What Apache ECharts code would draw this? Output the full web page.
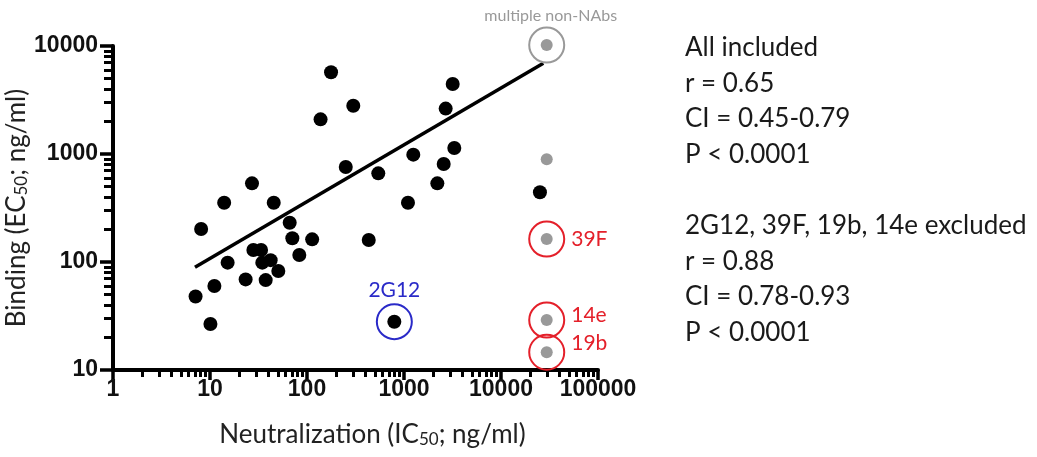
<!DOCTYPE html>
<html>
<head>
<meta charset="utf-8">
<script src="https://cdn.jsdelivr.net/npm/echarts@6/dist/echarts.min.js"></script>
<style>html,body{margin:0;background:#fff}#chart{width:1037px;height:457px}</style>
</head>
<body>
<div id="chart"></div>
<script>
// neutralization IC50 (x) vs binding EC50 (y), both ng/ml
const blackPoints = [
  [7.1, 48], [8.1, 202], [10.1, 26.7], [11.1, 60], [14.0, 354], [15.2, 98.6],
  [23.3, 69], [27.1, 535], [28, 129], [33.6, 129], [34.6, 98.6], [37.5, 68],
  [42.2, 104], [45.4, 354], [50.6, 82.6], [66.3, 231], [70.6, 166], [83.3, 116],
  [113, 162], [138, 2094], [177, 5710], [251, 759], [300, 2800], [433, 160],
  [543, 662], [795, 28], [1099, 354], [1247, 986], [2206, 535], [2566, 808],
  [2690, 2633], [3177, 4446], [3300, 1137], [25200, 442]
]
const grayPoints = [[29600, 10200], [29600, 893], [29600, 163], [29600, 29], [29600, 14.6]]
const fitLine = [[7.0, 89.4], [27300, 6920]]

// circled antibodies: name, x, y
const markedBlue = [['2G12', 795, 28]]
const markedRed = [['39F', 29600, 163], ['14e', 29600, 29], ['19b', 29600, 14.6]]
const markedGray = [['multiple non-NAbs', 29600, 10200]]

const xMajor = [1, 10, 100, 1000, 10000, 100000]
const yMajor = [10, 100, 1000, 10000]
const minorSteps = [2, 3, 4, 5, 6, 7, 8, 9]

const statsAll = ['All included', 'r = 0.65', 'CI = 0.45-0.79', 'P < 0.0001']
const statsExcl = ['2G12, 39F, 19b, 14e excluded', 'r = 0.88', 'CI = 0.78-0.93', 'P < 0.0001']

// tick positions in exponent space, for the overlaid linear tick axes
function minorExp(major) {
  const out = []
  major.slice(0, -1).forEach(d => minorSteps.forEach(k => out.push(Math.log10(k * d))))
  return out
}

const TEXT_FONT = 'Lato'
const TICK_FONT = 'Liberation Sans'
const red = '#e4202a'
const blue = '#2a2ac8'
const gray = '#999999'

// label shift for the stacked red labels
const redShift = {'39F': 0, '14e': -5, '19b': -9}

const subRich = {
  sub: {fontSize: 17, fontFamily: TEXT_FONT, color: '#222', verticalAlign: 'bottom', padding: [10, 0, 0, 0]},
}

const statStyle = {fontFamily: TEXT_FONT, fontSize: 26, fontWeight: 'normal', color: '#1a1a1a', lineHeight: 35.6}
const tickLabel = {formatter: v => String(v), fontFamily: TICK_FONT, fontWeight: 'bold', fontSize: 23, color: '#111'}

function mainAxis(min, max, extra) {
  return Object.assign({
    type: 'log',
    logBase: 10,
    min: min,
    max: max,
    axisLine: {show: true, onZero: false, lineStyle: {color: '#000', width: 4}},
    axisTick: {show: false},
    splitLine: {show: false},
    minorTick: {show: false},
  }, extra)
}

// linear axis over log10(min)..log10(max), only used to draw ticks
function tickAxis(major, position, len, width, minors) {
  const ax = {
    type: 'value',
    min: Math.log10(major[0]),
    max: Math.log10(major[major.length - 1]),
    interval: 1,
    position: position,
    axisLine: {show: false, onZero: false},
    axisTick: {show: true, length: len, lineStyle: {color: '#000', width: width}},
    axisLabel: {show: false},
    splitLine: {show: false},
  }
  if (minors) ax.axisTick.customValues = minorExp(major)
  return ax
}

const chart = echarts.init(document.getElementById('chart'), null, {renderer: 'canvas'})

chart.setOption({
  backgroundColor: '#fff',
  animation: false,
  grid: {left: 113, right: 439, top: 46, bottom: 87, containLabel: false},
  title: [
    {text: statsAll.join('\n'), left: 685, top: 30, padding: 0, textStyle: statStyle},
    {text: statsExcl.join('\n'), left: 685, top: 208, padding: 0, textStyle: statStyle},
  ],
  xAxis: [
    mainAxis(1, 100000, {
      position: 'bottom',
      axisLabel: Object.assign({customValues: xMajor, margin: 8}, tickLabel),
      name: 'Neutralization (IC{sub|50}; ng/ml)',
      nameLocation: 'middle',
      nameGap: 51,
      nameTextStyle: {fontFamily: TEXT_FONT, fontSize: 26, color: '#222', padding: [0, 0, 0, 34], rich: subRich},
    }),
    tickAxis(xMajor, 'bottom', 10, 3.5, false),
    tickAxis(xMajor, 'bottom', 7, 3, true),
  ],
  yAxis: [
    mainAxis(10, 10000, {
      position: 'left',
      axisLabel: Object.assign({customValues: yMajor, margin: 15}, tickLabel),
      name: 'Binding (EC{sub|50}; ng/ml)',
      nameLocation: 'middle',
      nameGap: 77,
      nameTextStyle: {fontFamily: TEXT_FONT, fontSize: 26, color: '#222', rich: subRich},
    }),
    tickAxis(yMajor, 'left', 13, 3.5, false),
    tickAxis(yMajor, 'left', 9, 3, true),
  ],
  series: [
    {
      type: 'line',
      data: fitLine,
      showSymbol: false,
      symbol: 'none',
      lineStyle: {color: '#000', width: 3.5},
      clip: false,
      z: 2,
    },
    {
      type: 'scatter',
      data: blackPoints,
      symbolSize: 14,
      itemStyle: {color: '#000', opacity: 1},
      z: 3,
    },
    {
      type: 'scatter',
      data: grayPoints,
      symbolSize: 12,
      itemStyle: {color: gray, opacity: 1},
      clip: false,
      z: 3,
    },
    {
      type: 'scatter',
      data: markedBlue.map(m => ({name: m[0], value: [m[1], m[2]]})),
      symbolSize: 35,
      itemStyle: {color: 'rgba(0,0,0,0)', borderColor: blue, borderWidth: 2, opacity: 1},
      label: {show: true, position: 'top', distance: 2, formatter: '{b}',
        fontFamily: TEXT_FONT, fontSize: 21, color: blue},
      z: 4,
    },
    {
      type: 'scatter',
      data: markedRed.map(m => ({
        name: m[0], value: [m[1], m[2]],
        label: {offset: [0, redShift[m[0]]]},
      })),
      symbolSize: 35,
      itemStyle: {color: 'rgba(0,0,0,0)', borderColor: red, borderWidth: 2, opacity: 1},
      label: {show: true, position: 'right', distance: 6, formatter: '{b}',
        fontFamily: TEXT_FONT, fontSize: 21, color: red},
      clip: false,
      z: 4,
    },
    {
      type: 'scatter',
      data: markedGray.map(m => ({name: m[0], value: [m[1], m[2]]})),
      symbolSize: 35,
      itemStyle: {color: 'rgba(0,0,0,0)', borderColor: gray, borderWidth: 2, opacity: 1},
      label: {show: true, position: 'top', distance: 3, offset: [4, 0], formatter: '{b}',
        fontFamily: TEXT_FONT, fontSize: 16, color: gray},
      clip: false,
      z: 4,
    },
  ],
})
</script>
</body>
</html>
